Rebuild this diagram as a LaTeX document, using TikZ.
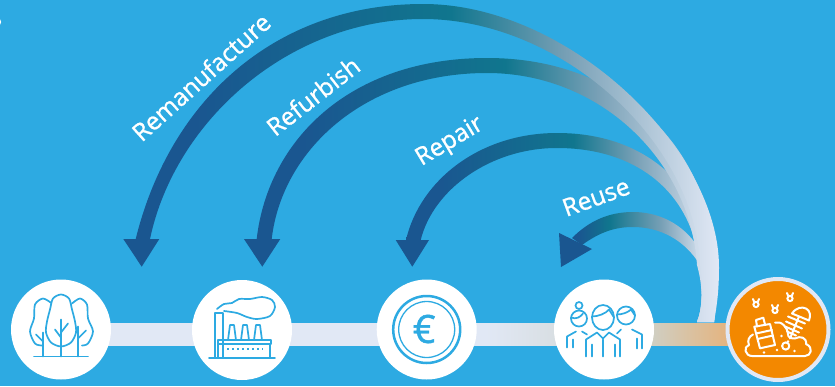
\documentclass[tikz,border=0pt]{standalone}
\usepackage{fontspec}
\newfontfamily\labelfont{Open Sans}[FakeBold=1]
\setmainfont{Open Sans}
\definecolor{fond}{RGB}{45,170,226}
\definecolor{sombre}{RGB}{26,86,144}
\definecolor{sarcelle}{RGB}{16,118,142}
\definecolor{grisbleu}{RGB}{120,160,182}
\definecolor{clair}{RGB}{225,232,245}
\definecolor{sable}{RGB}{205,210,203}
\definecolor{ocre}{RGB}{232,175,115}
\definecolor{orange}{RGB}{243,136,0}
\pgfdeclarehorizontalshading{bandeau}{100bp}{color(0bp)=(sombre); color(30bp)=(sombre); color(52bp)=(sarcelle); color(62bp)=(grisbleu); color(75bp)=(clair); color(100bp)=(clair)}
\pgfdeclarehorizontalshading{bandeaucourt}{100bp}{color(0bp)=(sombre); color(27bp)=(sombre); color(38bp)=(sarcelle); color(56bp)=(grisbleu); color(72bp)=(clair); color(100bp)=(clair)}
\pgfdeclarehorizontalshading{barre}{100bp}{color(0bp)=(clair); color(25bp)=(clair); color(55bp)=(clair); color(66bp)=(sable); color(73bp)=(ocre); color(100bp)=(ocre)}
\tikzset{
	rond/.style={circle, fill=white, inner sep=0pt, minimum size=100pt},
	etiquette/.style={text=white, font=\labelfont\fontsize{#1}{#1}\selectfont, inner sep=0pt},
	pointe/.style={fill=sombre},
	trait/.style={draw=fond, line width=1.7pt, line join=round, line cap=round},
	traitblanc/.style={draw=white, line width=2pt, line join=round, line cap=round}
}
\newcommand{\mouche}[2]{
	\draw[traitblanc] (#1,#2) circle (2.6);
	\draw[traitblanc] (#1-2,#2-3) -- (#1-3,#2-5.5) (#1+2,#2-3) -- (#1+3,#2-5.5);
}
\begin{document}
\begin{tikzpicture}[x=1pt, y=-1pt]
	\useasboundingbox (0,0) rectangle (835,386);
	\fill[fond] (0,0) rectangle (835,386);
	\fill[white] (-2.5,22) circle (3.7);

	\coordinate (pointeReuse) at (561,267);
	\coordinate (pointeRepair) at (412.3,266.7);
	\coordinate (pointeRefurbish) at (262.3,266.7);
	\coordinate (pointeReman) at (141.7,266.7);

	% barre du bas
	\shade[shading=barre] (60,323) rectangle (770,345);

	% bandes courbes
	\shade[shading=bandeaucourt] (572,238) .. controls (590,220) and (610,212) .. (633,212)
		.. controls (660,212) and (690,225) .. (706,262)
		.. controls (714,285) and (716,305) .. (714,322) -- (697,322)
		.. controls (702,310) and (704,290) .. (700,265)
		.. controls (685,240) and (660,227) .. (633,227)
		.. controls (615,227) and (600,232) .. (582,245) -- cycle;
	\shade[shading=bandeau] (406,240) .. controls (420,180) and (480,133) .. (557,133)
		.. controls (645,133) and (700,185) .. (714,260)
		.. controls (716,285) and (716,305) .. (714,322) -- (697,322)
		.. controls (702,310) and (704,290) .. (697,250)
		.. controls (685,190) and (635,148) .. (557,148)
		.. controls (490,148) and (433,190) .. (420.7,240) -- cycle;
	\shade[shading=bandeau] (256.7,239) .. controls (268,140) and (350,58) .. (487,58)
		.. controls (625,58) and (710,150) .. (716,265)
		.. controls (717,290) and (716,305) .. (714,322) -- (697,322)
		.. controls (702,310) and (704,290) .. (697,265)
		.. controls (690,160) and (600,73) .. (487,73)
		.. controls (365,73) and (282,150) .. (271.7,239) -- cycle;
	\shade[shading=bandeau] (135.7,239) .. controls (170,100) and (275,4) .. (423,4)
		.. controls (570,4) and (719,150) .. (719,267)
		.. controls (719,290) and (717,305) .. (714,322) -- (697,322)
		.. controls (702,310) and (704,290) .. (700,265)
		.. controls (695,140) and (560,19) .. (423,19)
		.. controls (290,19) and (175,120) .. (150,239) -- cycle;

	% pointes
	\fill[pointe] (pointeReman) -- (123.3,239) -- (159.3,239) -- cycle;
	\fill[pointe] (pointeRefurbish) -- (244,239) -- (280.3,239) -- cycle;
	\fill[pointe] (pointeRepair) -- (395.7,240) -- (429,240) -- cycle;
	\fill[pointe] (pointeReuse) -- (559,233) -- (592,249) -- cycle;

	% textes
	\node[etiquette=24.5, rotate=42] (reman) at (201,77) {Remanufacture};
	\node[etiquette=24.5, rotate=38] (refurbish) at (313,96) {Refurbish};
	\node[etiquette=24.5, rotate=31] (repair) at (450,142) {Repair};
	\node[etiquette=24.5, rotate=20] (reuse) at (596,197) {Reuse};

	% ronds
	\node[rond] (arbres) at (61,329.5) {};
	\node[rond] (usine) at (242,330) {};
	\node[rond] (monnaie) at (426.7,329.5) {};
	\node[rond] (gens) at (604,329.5) {};
	\node[circle, fill=orange, draw=clair, line width=4pt, inner sep=0pt, minimum size=101pt] (dechets) at (778,329.5) {};

	% arbres
	\begin{scope}[shift={(arbres.center)}]
		\draw[trait] plot[smooth] coordinates {(-9,-26) (-18,-31) (-26,-25) (-27,-11) (-31,2) (-26,14) (-19,16)};
		\draw[trait] plot[smooth] coordinates {(11,-26) (19,-31) (26,-25) (27,-11) (32,2) (27,14) (21,16)};
		\draw[trait, fill=white] plot[smooth cycle] coordinates {(0,-35) (8,-31) (11,-20) (14,-8) (15,3) (10,13) (0,17) (-10,13) (-15,3) (-14,-8) (-11,-20) (-8,-31)};
		\draw[trait] (-27,27) -- (27,27);
		\draw[trait] (0,-10) -- (0,27) (-6,0) -- (0,8) (7,-6) -- (0,3);
		\draw[trait] (-18,3) -- (-18,27) (-25,5) -- (-18,12);
		\draw[trait] (17,-3) -- (17,27) (25,1) -- (17,9);
	\end{scope}

	% usine
	\begin{scope}[shift={(usine.center)}]
		\draw[trait] (-33,28) -- (33,28);
		\draw[trait] (-27,28) -- (-27,-17) -- (-19,-17) -- (-19,28);
		\draw[trait] (-24,10) rectangle (29,14);
		\draw[trait] (-24,14) -- (-24,28) (28,14) -- (28,28);
		\draw[trait] (-14,10) -- (-12,-5) -- (-8,-5) -- (-6,10);
		\draw[trait] (-1,10) -- (1,-5) -- (5,-5) -- (7,10);
		\draw[trait] (12,10) -- (14,-5) -- (18,-5) -- (20,10);
		\draw[trait] plot[smooth] coordinates {(-25,-21) (-18,-26) (-10,-27) (-3,-31) (8,-31) (20,-33) (30,-30) (33,-23) (28,-14) (15,-11) (5,-13) (-5,-17) (-18,-19)};
		\draw[trait, dash pattern=on 1.5pt off 3.5pt, line cap=butt, line width=2pt] (-15,19) -- (21,19);
	\end{scope}

	% monnaie
	\begin{scope}[shift={(monnaie.center)}]
		\draw[fond, line width=2.5pt] (0,0) circle (33.5);
		\draw[fond, line width=1.3pt] (0,0) circle (28);
		\node[text=fond, font=\labelfont\fontsize{39}{39}\selectfont, inner sep=0pt] (euro) at (-2.5,-0.5) {€};
	\end{scope}

	% gens
	\begin{scope}[shift={(gens.center)}]
		\draw[trait] (-25,-11) circle (8);
		\draw[trait] (-25,-24) circle (3.5);
		\draw[trait] (-33,-12) .. controls (-28,-10) and (-24,-12) .. (-21,-16);
		\draw[trait] (-37,18) -- (-37,7) -- (-28,2) (-31,10) -- (-31,18) (-22,2) -- (-17,5);
		\draw[trait] (22,-14) circle (9);
		\draw[trait] (13,-15) .. controls (18,-15) and (24,-17) .. (27,-20) -- (31,-14);
		\draw[trait] (38,19) -- (38,5) -- (28,0) (33,9) -- (33,19) (17,0) -- (13,4);
		\draw[trait, fill=white] (-1,-12) ellipse (11 and 12.5);
		\draw[trait] (-12,-13) .. controls (-6,-13) and (2,-16) .. (5,-20) -- (10,-12);
		\draw[trait] (-18,27) -- (-18,10) -- (-7,3) -- (-1,9) -- (5,3) -- (16,10) -- (16,27);
		\draw[trait] (-12,15) -- (-12,27) (11,15) -- (11,27) (-1,10) -- (-1,27);
	\end{scope}

	% dechets
	\begin{scope}[shift={(dechets.center)}]
		\draw[traitblanc] (-26,26.5) -- (27,26.5) .. controls (33,26.5) and (36,18) .. (28,14.5)
			.. controls (29,8) and (22,6) .. (17,9) .. controls (13,9) and (10,8) .. (10,5)
			.. controls (10,-2) and (3,-9) .. (-3,-7);
		\draw[traitblanc] (-26,26.5) .. controls (-33,26.5) and (-35,17) .. (-29,15.5) .. controls (-31,11) and (-29,7) .. (-25,5);
		\draw[traitblanc, fill=orange] (-23.7,-2.8) -- (-8,-5.5) -- (-3,15.5) -- (-18,18.8) -- cycle;
		\draw[traitblanc] (-21,-3) -- (-22,-9.5) -- (-14.7,-11.8) -- (-13,-5);
		\draw[traitblanc] (-22,4) -- (-6,0.5) (-20.5,9.5) -- (-5,6);
		\draw[traitblanc] (14,-16) .. controls (18,-22) and (24,-23) .. (28,-21) .. controls (32,-19) and (33,-14) .. (31,-9) -- cycle;
		\draw[traitblanc] (21,-13) -- (12,9);
		\draw[traitblanc] (10,-13) -- (27,-6) (8,-8) -- (24,-1) (7,-3) -- (21,3) (9,2) -- (18,6);
		\draw[traitblanc] (7.7,16.5) circle (3.6);
		\fill[white] (-14,23) circle (1.4) (-1,20.5) circle (1.4) (16.5,21.5) circle (1.4) (3.5,6.5) circle (1.4) (10,12) circle (1.4);
		\mouche{-22}{-25}
		\mouche{-3}{-19}
		\mouche{12}{-31}
	\end{scope}
\end{tikzpicture}
\end{document}
